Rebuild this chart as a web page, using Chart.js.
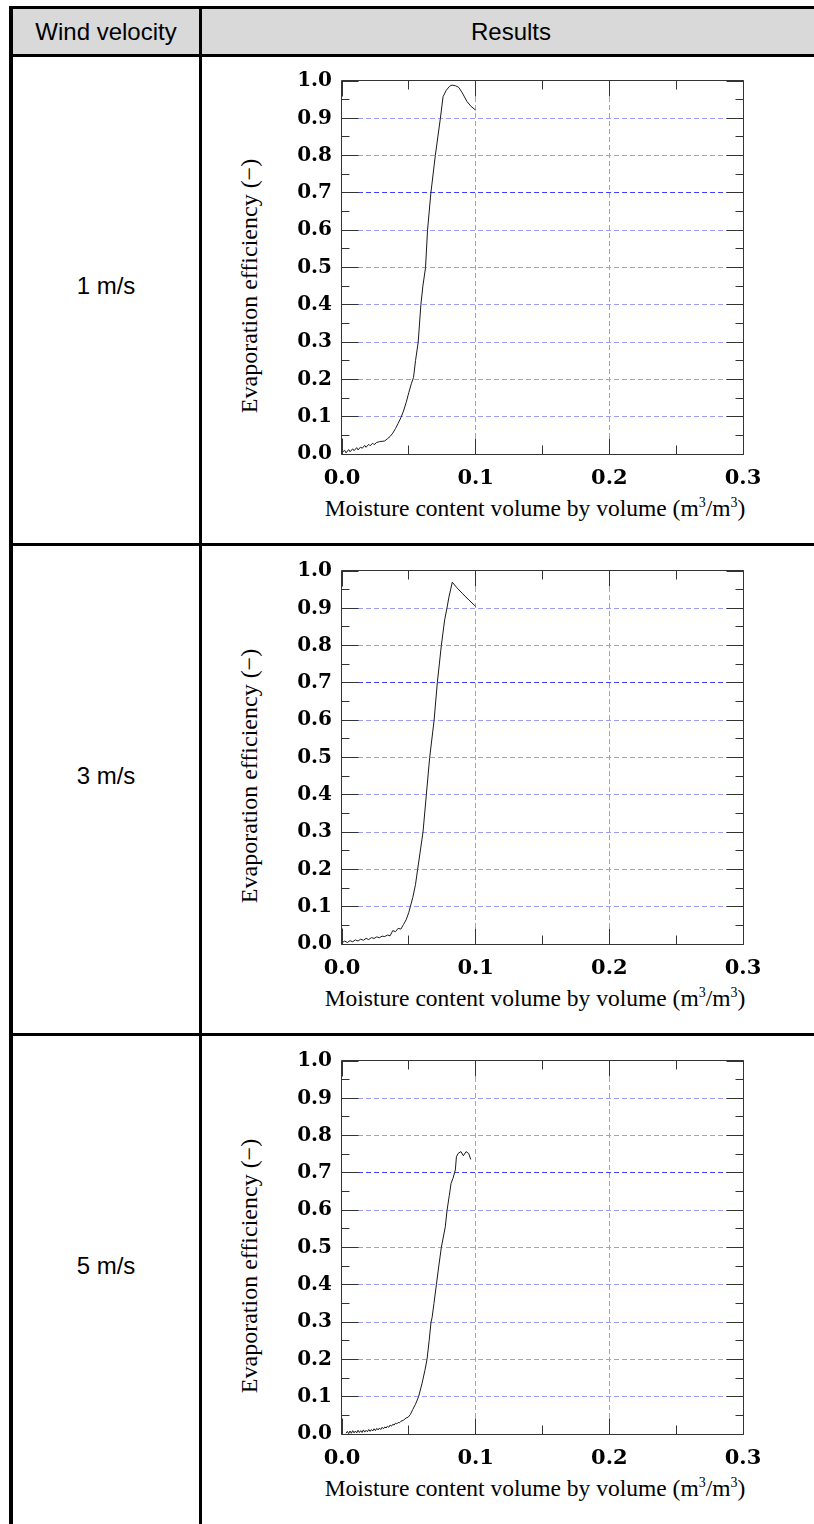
<!DOCTYPE html>
<html>
<head>
<meta charset="utf-8">
<script src="https://cdn.jsdelivr.net/npm/chart.js@4.4.0/dist/chart.umd.min.js"></script>
<style>
  html, body { margin: 0; padding: 0; background: #fff; }
  #page { position: relative; width: 814px; height: 1524px; overflow: hidden; }
  .bar { position: absolute; background: #000; z-index: 5; }
  .hdr { position: absolute; background: #d9d9d9; }
  .sans { position: absolute; font-family: 'Liberation Sans', Arial, sans-serif; font-size: 24px; line-height: 1;
          color: #000; white-space: nowrap; transform: translate(-50%, -50%); }
  .serif { position: absolute; font-family: 'Liberation Serif', 'Times New Roman', serif; font-size: 23.5px; line-height: 1;
           color: #000; white-space: nowrap; }
  .serif sup { font-size: 14px; line-height: 0; vertical-align: 9px; }
  canvas { position: absolute; }
</style>
</head>
<body>
<div id="page"></div>
<script>
// Table texts
const headerLabels = ['Wind velocity', 'Results'];
const velocityLabels = ['1 m/s', '3 m/s', '5 m/s'];
const yTitle = 'Evaporation efficiency (\u2212)';

// Axis ticks
const xMajor = [0, 0.1, 0.2, 0.3];
const xMinor = [0.05, 0.15, 0.25];
const yMajor = [0, 0.1, 0.2, 0.3, 0.4, 0.5, 0.6, 0.7, 0.8, 0.9, 1.0];
const yMinor = [0.05, 0.15, 0.25, 0.35, 0.45, 0.55, 0.65, 0.75, 0.85, 0.95];

// 1 m/s
const moisture1 = [0.000, 0.002, 0.003, 0.005, 0.006, 0.008, 0.009, 0.011, 0.012, 0.014, 0.015, 0.017, 0.018,
    0.020, 0.021, 0.023, 0.024, 0.026, 0.028, 0.030, 0.032, 0.034, 0.036, 0.038, 0.040, 0.042, 0.044, 0.046,
    0.048, 0.050, 0.052, 0.0535, 0.055, 0.057, 0.059, 0.0605, 0.0625, 0.064, 0.0665, 0.0698, 0.0736, 0.0756,
    0.078, 0.0805, 0.0823, 0.085, 0.0873, 0.090, 0.0935, 0.0965, 0.100];
const efficiency1 = [0.004, 0.010, 0.003, 0.012, 0.006, 0.014, 0.009, 0.017, 0.011, 0.019, 0.015, 0.023, 0.018,
    0.026, 0.022, 0.029, 0.025, 0.031, 0.033, 0.034, 0.035, 0.041, 0.047, 0.056, 0.068, 0.082, 0.097, 0.115,
    0.138, 0.165, 0.190, 0.205, 0.25, 0.30, 0.40, 0.45, 0.50, 0.60, 0.70, 0.80, 0.90, 0.958,
    0.975, 0.986, 0.989, 0.987, 0.983, 0.968, 0.945, 0.932, 0.922];

// 3 m/s
const moisture3 = [0.000, 0.002, 0.004, 0.006, 0.008, 0.010, 0.012, 0.014, 0.016, 0.018, 0.020, 0.022, 0.024,
    0.026, 0.028, 0.030, 0.032, 0.034, 0.036, 0.038, 0.040, 0.042, 0.044, 0.046, 0.048, 0.050, 0.0511, 0.053,
    0.055, 0.0566, 0.0606, 0.0631, 0.0656, 0.0689, 0.0713, 0.0743, 0.0768, 0.0785, 0.080, 0.0825, 0.086,
    0.090, 0.095, 0.100];
const efficiency3 = [0.003, 0.008, 0.004, 0.009, 0.006, 0.011, 0.008, 0.013, 0.010, 0.015, 0.012, 0.017, 0.015,
    0.019, 0.017, 0.021, 0.020, 0.024, 0.022, 0.036, 0.033, 0.042, 0.040, 0.052, 0.065, 0.085, 0.100, 0.125,
    0.160, 0.200, 0.300, 0.400, 0.500, 0.600, 0.700, 0.800, 0.869, 0.900, 0.930, 0.970, 0.955,
    0.940, 0.922, 0.905];

// 5 m/s
const moisture5 = [0.003, 0.004, 0.005, 0.006, 0.007, 0.008, 0.009, 0.010, 0.011, 0.012, 0.013, 0.014, 0.015,
    0.016, 0.017, 0.018, 0.019, 0.020, 0.021, 0.022, 0.023, 0.024, 0.025, 0.026, 0.027, 0.028, 0.029, 0.030,
    0.031, 0.032, 0.033, 0.034, 0.035, 0.036, 0.037, 0.038, 0.039, 0.040, 0.041, 0.042, 0.043, 0.044,
    0.046, 0.048, 0.0495, 0.0511, 0.053, 0.055, 0.0573, 0.0599, 0.0620, 0.0636, 0.0652, 0.0666, 0.0674,
    0.0688, 0.0706, 0.0724, 0.0743, 0.0773, 0.0786, 0.0803, 0.0816, 0.0830, 0.0848, 0.0856, 0.0868,
    0.0890, 0.0908, 0.0928, 0.0948, 0.0963];
const efficiency5 = [0.002, 0.007, 0.001, 0.008, 0.002, 0.009, 0.003, 0.008, 0.003, 0.010, 0.004, 0.009, 0.004,
    0.011, 0.005, 0.010, 0.006, 0.012, 0.007, 0.012, 0.008, 0.014, 0.009, 0.015, 0.011, 0.016, 0.012, 0.018,
    0.014, 0.019, 0.016, 0.021, 0.018, 0.024, 0.021, 0.026, 0.024, 0.029, 0.027, 0.031, 0.030, 0.034,
    0.037, 0.043, 0.045, 0.052, 0.066, 0.080, 0.100, 0.136, 0.170, 0.200, 0.250, 0.300, 0.312,
    0.350, 0.400, 0.450, 0.500, 0.556, 0.600, 0.640, 0.672, 0.685, 0.708, 0.743, 0.752,
    0.757, 0.746, 0.757, 0.752, 0.736];

const panels = [
    { moisture: moisture1, efficiency: efficiency1 },
    { moisture: moisture3, efficiency: efficiency3 },
    { moisture: moisture5, efficiency: efficiency5 }
];

const page = document.getElementById('page');
const rowTops = [56, 546, 1036];

function addDiv(cls, css, html) {
    const d = document.createElement('div');
    d.className = cls;
    Object.assign(d.style, css);
    if (html !== undefined) d.innerHTML = html;
    page.appendChild(d);
    return d;
}

// table frame
addDiv('hdr', { left: '13px', top: '9px', width: '801px', height: '45px' });
addDiv('bar', { left: '9px', top: '6px', width: '805px', height: '3px' });
addDiv('bar', { left: '9px', top: '54px', width: '805px', height: '3px' });
addDiv('bar', { left: '9px', top: '543px', width: '805px', height: '3px' });
addDiv('bar', { left: '9px', top: '1033px', width: '805px', height: '3px' });
addDiv('bar', { left: '9px', top: '6px', width: '4px', height: '1518px' });
addDiv('bar', { left: '199px', top: '6px', width: '3px', height: '1518px' });

addDiv('sans', { left: '106px', top: '32px' }, headerLabels[0]);
addDiv('sans', { left: '511px', top: '32px' }, headerLabels[1]);

const gridLight = '#9c9cff';
const gridDark = '#4040ff';
const near = (a, b) => Math.abs(a - b) < 1e-6;
const align = p => Math.round(p - 0.5) + 0.5;

// frame and inward tick marks on all four sides
const insideTicks = {
    id: 'insideTicks',
    afterDraw(chart) {
        const { ctx, chartArea: a, scales: { x, y } } = chart;
        const L = a.left - 0.5, R = a.right + 0.5, T = a.top - 0.5, B = a.bottom + 0.5;
        ctx.save();
        ctx.strokeStyle = '#333';
        ctx.lineWidth = 1;
        ctx.beginPath();
        ctx.rect(L, T, R - L, B - T);
        const yTick = (v, len) => {
            const p = align(y.getPixelForValue(v));
            ctx.moveTo(L, p); ctx.lineTo(L + len, p);
            ctx.moveTo(R, p); ctx.lineTo(R - len, p);
        };
        const xTick = (v, len) => {
            const p = align(x.getPixelForValue(v));
            ctx.moveTo(p, B); ctx.lineTo(p, B - len);
            ctx.moveTo(p, T); ctx.lineTo(p, T + len);
        };
        yMajor.forEach(v => yTick(v, 17));
        yMinor.forEach(v => yTick(v, 8));
        xMajor.forEach(v => xTick(v, 16));
        xMinor.forEach(v => xTick(v, 9));
        ctx.stroke();
        ctx.restore();
    }
};

panels.forEach((panel, i) => {
    const top = rowTops[i];

    addDiv('sans', { left: '106px', top: (top + 230) + 'px' }, velocityLabels[i]);
    addDiv('serif', { left: '249px', top: (top + 230) + 'px', fontSize: '24px',
        transform: 'translate(-50%, -50%) rotate(-90deg)' }, yTitle);
    addDiv('serif', { left: '535px', top: (top + 441) + 'px', transform: 'translateX(-50%)' },
        'Moisture content volume by volume (m<sup>3</sup>/m<sup>3</sup>)');

    const canvas = document.createElement('canvas');
    canvas.width = 612;
    canvas.height = 488;
    canvas.style.left = '202px';
    canvas.style.top = top + 'px';
    canvas.style.width = '612px';
    canvas.style.height = '488px';
    page.appendChild(canvas);

    new Chart(canvas.getContext('2d'), {
        type: 'scatter',
        data: {
            datasets: [{
                data: panel.moisture.map((v, k) => ({ x: v, y: panel.efficiency[k] })),
                showLine: true,
                borderColor: '#1a1a1a',
                borderWidth: 1,
                pointRadius: 0,
                tension: 0
            }]
        },
        options: {
            responsive: false,
            animation: false,
            events: [],
            layout: { padding: { left: 0, top: 25, right: 71, bottom: 0 } },
            plugins: { legend: { display: false }, tooltip: { enabled: false } },
            scales: {
                x: {
                    type: 'linear',
                    min: 0,
                    max: 0.3,
                    afterBuildTicks: s => { s.ticks = xMajor.map(v => ({ value: v })); },
                    afterFit: s => { s.height = 90; },
                    ticks: {
                        color: '#000',
                        font: { family: "'DejaVu Serif', serif", size: 21, weight: 'bold' },
                        padding: 12,
                        maxRotation: 0,
                        autoSkip: false,
                        callback: v => v.toFixed(1)
                    },
                    grid: {
                        drawTicks: false,
                        lineWidth: 1,
                        color: c => (c.tick && (near(c.tick.value, 0.1) || near(c.tick.value, 0.2))) ? gridLight : 'rgba(0,0,0,0)'
                    },
                    border: { display: false, dash: [5, 3] }
                },
                y: {
                    min: 0,
                    max: 1,
                    afterBuildTicks: s => { s.ticks = yMajor.map(v => ({ value: v })); },
                    afterFit: s => { s.width = 140; },
                    ticks: {
                        color: '#000',
                        font: { family: "'DejaVu Serif', serif", size: 20, weight: 'bold' },
                        padding: 10,
                        autoSkip: false,
                        callback: v => v.toFixed(1)
                    },
                    grid: {
                        drawTicks: false,
                        lineWidth: 1,
                        color: c => {
                            const v = c.tick ? c.tick.value : 0;
                            if (near(v, 0) || near(v, 1)) return 'rgba(0,0,0,0)';
                            return near(v, 0.7) ? gridDark : gridLight;
                        }
                    },
                    border: { display: false, dash: [5, 3] }
                }
            }
        },
        plugins: [insideTicks]
    });
});
</script>
</body>
</html>
